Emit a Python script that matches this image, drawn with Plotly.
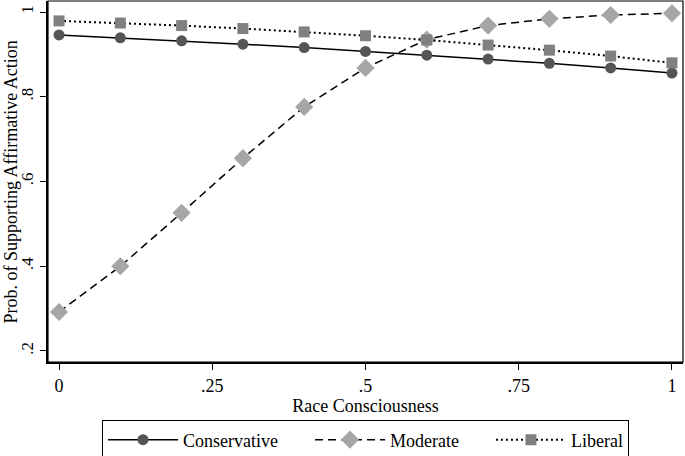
import plotly.graph_objects as go

x_vals = [0, 0.1, 0.2, 0.3, 0.4, 0.5, 0.6, 0.7, 0.8, 0.9, 1.0]
conservative = [0.946, 0.939, 0.932, 0.924, 0.916, 0.907, 0.898, 0.889, 0.879, 0.868, 0.856]
moderate = [0.292, 0.400, 0.526, 0.655, 0.776, 0.868, 0.935, 0.968, 0.984, 0.993, 0.997]
liberal = [0.979, 0.974, 0.968, 0.961, 0.953, 0.944, 0.934, 0.922, 0.910, 0.896, 0.880]
series_names = ["Conservative", "Moderate", "Liberal"]

x_ticks = [0, 0.25, 0.5, 0.75, 1]
x_labels = ["0", ".25", ".5", ".75", "1"]
y_ticks = [0.2, 0.4, 0.6, 0.8, 1.0]
y_labels = [".2", ".4", ".6", ".8", "1"]

font = "Liberation Serif"
pad = "\u00a0" * 6

fig = go.Figure()
fig.add_trace(go.Scatter(x=x_vals, y=conservative, name=series_names[0] + pad, mode="lines+markers",
                         line=dict(color="black", width=1.5, dash="solid"),
                         marker=dict(symbol="circle", size=11, color="#555555")))
fig.add_trace(go.Scatter(x=x_vals, y=moderate, name=series_names[1] + pad, mode="lines+markers",
                         line=dict(color="black", width=1.5, dash="8px,5px"),
                         marker=dict(symbol="diamond", size=14, color="#a6a6a6")))
fig.add_trace(go.Scatter(x=x_vals, y=liberal, name=series_names[2], mode="lines+markers",
                         line=dict(color="black", width=2, dash="2px,3px"),
                         marker=dict(symbol="square", size=11, color="#808080")))

fig.update_layout(
    width=685, height=456,
    margin=dict(l=48, r=2, t=1, b=94, autoexpand=False),
    paper_bgcolor="white", plot_bgcolor="white",
    font=dict(family=font, size=18, color="black"),
    showlegend=True,
    legend=dict(orientation="h", x=0.5, xanchor="center", y=-0.162, yanchor="top",
                bordercolor="black", borderwidth=1, font=dict(size=18, family=font),
                itemwidth=70, traceorder="normal", bgcolor="white"),
    xaxis=dict(range=[-0.018, 1.018], tickvals=x_ticks, ticktext=x_labels, automargin=False,
               ticks="outside", ticklen=6, tickwidth=1.2, tickcolor="black",
               showgrid=False, zeroline=False, showline=True, linecolor="black", linewidth=2,
               title=dict(text="Race Consciousness", font=dict(size=18, family=font), standoff=2),
               tickfont=dict(size=18, family=font)),
    yaxis=dict(range=[0.174, 1.026], tickvals=y_ticks, ticktext=y_labels, automargin=False,
               ticks="outside", ticklen=6, tickwidth=1.2, tickcolor="black", tickangle=-90,
               showgrid=False, zeroline=False, showline=True, linecolor="black", linewidth=2,
               tickfont=dict(size=17, family=font)),
    annotations=[dict(text="Prob. of Supporting Affirmative Action", xref="paper", yref="paper",
                      x=-0.0583, y=0.5, xanchor="center", yanchor="middle", textangle=-90,
                      showarrow=False, font=dict(size=18, family=font))],
    shapes=[dict(type="rect", xref="paper", yref="paper", x0=0, x1=1, y0=0, y1=1,
                 line=dict(color="black", width=1.2), fillcolor="rgba(0,0,0,0)")],
)

fig.write_html("out.html", config={"displayModeBar": False},
               post_script="document.body.style.margin='0';document.body.style.padding='0';")
